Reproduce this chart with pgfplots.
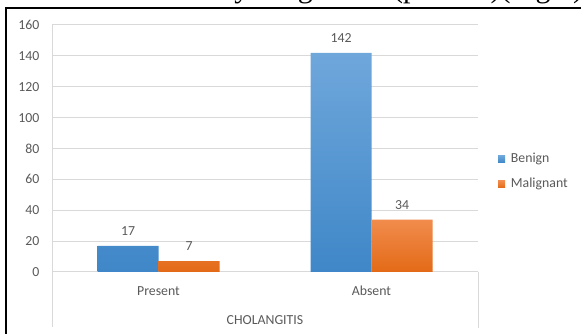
\documentclass[border=0pt]{standalone}
\usepackage{pgfplots}
\pgfplotsset{compat=1.18}
\usepackage{fontspec}
\setmainfont{Carlito}
\newfontfamily\captionserif{Liberation Serif}

\definecolor{benignTop}{HTML}{6FA7DB}
\definecolor{benignBot}{HTML}{3F87C8}
\definecolor{maligTop}{HTML}{F18C4D}
\definecolor{maligBot}{HTML}{E36A17}
\definecolor{labeltext}{HTML}{595959}
\definecolor{gridc}{HTML}{D9D9D9}

\newcommand{\chartfont}{\fontsize{13.8}{16}\selectfont}

\begin{document}
\begin{tikzpicture}[x=1pt,y=1pt]
\useasboundingbox (0,0) rectangle (581,334);
\clip (0,0) rectangle (581,334);

% caption line of the page above the figure
\begin{scope}[font=\captionserif\fontsize{30}{36}\selectfont]
  \node[anchor=base east, inner sep=0pt] at (249.5,336) {by};
  \node[anchor=base west, inner sep=0pt] at (246,336) {along with};
  \node[anchor=base west, inner sep=0pt] at (393,336) {(p value)(Fig 1)};
\end{scope}

% figure frame
\draw[line width=2.6pt] (6,-10) -- (6,326) -- (600,326);

\begin{axis}[
  at={(52pt,62pt)}, anchor=south west,
  scale only axis, width=426pt, height=247pt,
  xmin=-0.5, xmax=1.5, ymin=0, ymax=160,
  xtick={0,1}, xticklabels={Present,Absent},
  ytick={0,20,...,160},
  major tick length=0pt,
  axis line style={draw=none},
  ymajorgrids, grid style={draw=gridc, line width=1pt},
  ybar=0pt, bar width=61pt,
  /pgf/number format/assume math mode=true,
  tick label style={font=\chartfont, text=labeltext},
  yticklabel style={anchor=east, inner sep=0pt, xshift=-12.5pt},
  xticklabel style={anchor=center, inner sep=0pt, yshift=-19pt},
  xlabel={CHOLANGITIS},
  xlabel style={at={(axis description cs:0.5,0)}, anchor=center,
    yshift=-48pt, font=\chartfont, text=labeltext, inner sep=0pt},
  nodes near coords,
  nodes near coords style={font=\chartfont, text=labeltext,
    anchor=south, inner sep=0pt, yshift=10pt},
  legend cell align=left,
  legend image code/.code={\fill[#1] (0pt,-3.5pt) rectangle (7pt,3.5pt);},
  legend style={at={(1.047,0.406)}, anchor=west, draw=none, fill=none,
    inner sep=0pt, row sep=13.3pt,
    nodes={inner sep=0pt, text height=9pt, text depth=3pt,
      font=\chartfont, text=labeltext},
    /tikz/every odd column/.append style={column sep=5.7pt}},
]
\addplot[draw=none, top color=benignTop, bottom color=benignBot]
  coordinates {(0,17) (1,142)};
\addlegendentry{Benign}
\addplot[draw=none, top color=maligTop, bottom color=maligBot]
  coordinates {(0,7) (1,34)};
\addlegendentry{Malignant}
\end{axis}

% category axis dividers below the plot area
\draw[gridc, line width=1pt] (52,309) -- (52,7);
\draw[gridc, line width=1pt] (478,62) -- (478,6);
\end{tikzpicture}
\end{document}
